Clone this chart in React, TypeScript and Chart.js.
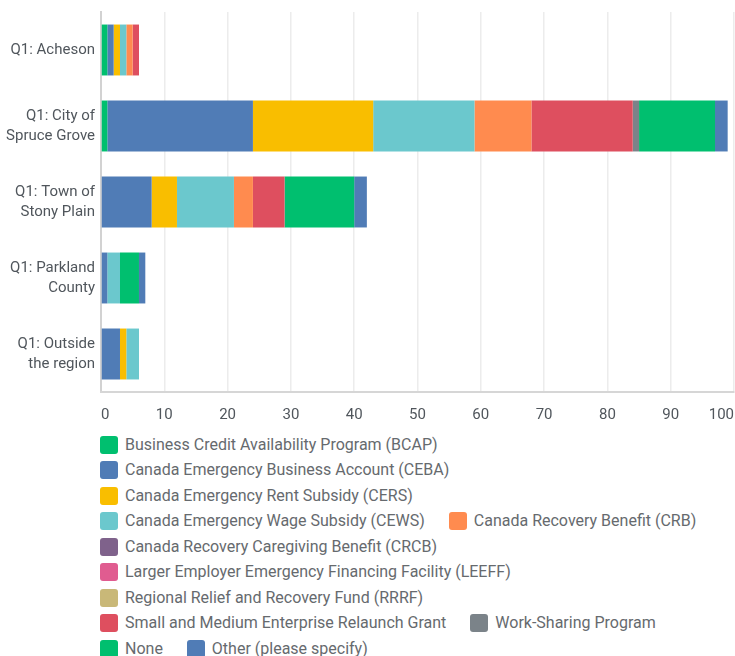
import React, { useEffect, useRef } from 'react';
import { Chart, registerables } from 'chart.js';

Chart.register(...registerables);

const categories: string[][] = [
  ['Q1: Acheson'],
  ['Q1: City of', 'Spruce Grove'],
  ['Q1: Town of', 'Stony Plain'],
  ['Q1: Parkland', 'County'],
  ['Q1: Outside', 'the region'],
];

const seriesNames = [
  'Business Credit Availability Program (BCAP)',
  'Canada Emergency Business Account (CEBA)',
  'Canada Emergency Rent Subsidy (CERS)',
  'Canada Emergency Wage Subsidy (CEWS)',
  'Canada Recovery Benefit (CRB)',
  'Canada Recovery Caregiving Benefit (CRCB)',
  'Larger Employer Emergency Financing Facility (LEEFF)',
  'Regional Relief and Recovery Fund (RRRF)',
  'Small and Medium Enterprise Relaunch Grant',
  'Work-Sharing Program',
  'None',
  'Other (please specify)',
];

const seriesColors = [
  '#00bf6f',
  '#507cb6',
  '#f9be00',
  '#6bc8cd',
  '#ff8b4f',
  '#7f628b',
  '#e05c90',
  '#c9b878',
  '#de4f5f',
  '#7b8389',
  '#00bf6f',
  '#507cb6',
];

// values per category: Acheson, Spruce Grove, Stony Plain, Parkland County, Outside the region
const bcap = [1, 1, 0, 0, 0];
const ceba = [1, 23, 8, 1, 3];
const cers = [1, 19, 4, 0, 1];
const cews = [1, 16, 9, 2, 2];
const crb = [1, 9, 3, 0, 0];
const crcb = [0, 0, 0, 0, 0];
const leeff = [0, 0, 0, 0, 0];
const rrrf = [0, 0, 0, 0, 0];
const smerg = [1, 16, 5, 0, 0];
const workSharing = [0, 1, 0, 0, 0];
const none = [0, 12, 11, 3, 0];
const other = [0, 2, 2, 1, 0];

const seriesValues = [bcap, ceba, cers, cews, crb, crcb, leeff, rrrf, smerg, workSharing, none, other];

const xMin = 0;
const xMax = 100;
const xStep = 10;

const FONT = 'Roboto, "Noto Sans", sans-serif';

export default function App() {
  const canvasRef = useRef<HTMLCanvasElement | null>(null);

  useEffect(() => {
    const canvas = canvasRef.current;
    if (!canvas) return;
    const chart = new Chart(canvas, {
      type: 'bar',
      data: {
        labels: categories,
        datasets: seriesNames.map((name, i) => ({
          label: name,
          data: seriesValues[i],
          backgroundColor: seriesColors[i],
          borderWidth: 0,
          barPercentage: 0.67,
          categoryPercentage: 1,
        })),
      },
      options: {
        indexAxis: 'y',
        responsive: false,
        animation: false,
        devicePixelRatio: 1,
        layout: { padding: { left: 0, right: 1, top: 12, bottom: 0 } },
        plugins: {
          legend: { display: false },
          tooltip: { enabled: false },
        },
        scales: {
          y: {
            stacked: true,
            grid: { display: false, drawTicks: false },
            border: { display: true, color: '#d2d2d2', width: 2 },
            ticks: {
              padding: 6,
              color: '#50565c',
              font: { family: FONT, size: 15, lineHeight: 1.34 },
            },
            afterFit: (s: any) => {
              s.width = 101;
              s.paddingTop = 0;
              s.paddingBottom = 0;
            },
          },
          x: {
            stacked: true,
            min: xMin,
            max: xMax,
            grid: { color: '#ececec', lineWidth: 1.5, drawTicks: false },
            border: { display: true, color: '#d6d6d6', width: 2 },
            ticks: {
              stepSize: xStep,
              align: 'inner',
              padding: 14,
              color: '#50565c',
              font: { family: FONT, size: 15 },
            },
            afterFit: (s: any) => {
              s.height = 33;
              s.paddingLeft = 0;
              s.paddingRight = 0;
            },
          },
        },
      },
    });
    return () => chart.destroy();
  }, []);

  return (
    <div
      style={{
        position: 'fixed',
        left: 0,
        top: 0,
        width: 735,
        height: 656,
        overflow: 'hidden',
        background: '#ffffff',
      }}
    >
      <canvas
        ref={canvasRef}
        width={735}
        height={425}
        style={{ position: 'absolute', left: 0, top: 0, width: 735, height: 425 }}
      />
      <div
        style={{
          position: 'absolute',
          left: 100,
          top: 435.5,
          width: 615,
          display: 'flex',
          flexWrap: 'wrap',
          columnGap: 24,
          rowGap: 7.5,
        }}
      >
        {seriesNames.map((name, i) => (
          <div key={name} style={{ display: 'flex', alignItems: 'center', height: 18 }}>
            <span
              style={{
                display: 'inline-block',
                width: 18,
                height: 18,
                borderRadius: 3,
                background: seriesColors[i],
                marginRight: 7,
              }}
            />
            <span
              style={{
                fontFamily: FONT,
                fontSize: 16,
                lineHeight: '18px',
                color: '#666a6e',
                whiteSpace: 'nowrap',
              }}
            >
              {name}
            </span>
          </div>
        ))}
      </div>
    </div>
  );
}
